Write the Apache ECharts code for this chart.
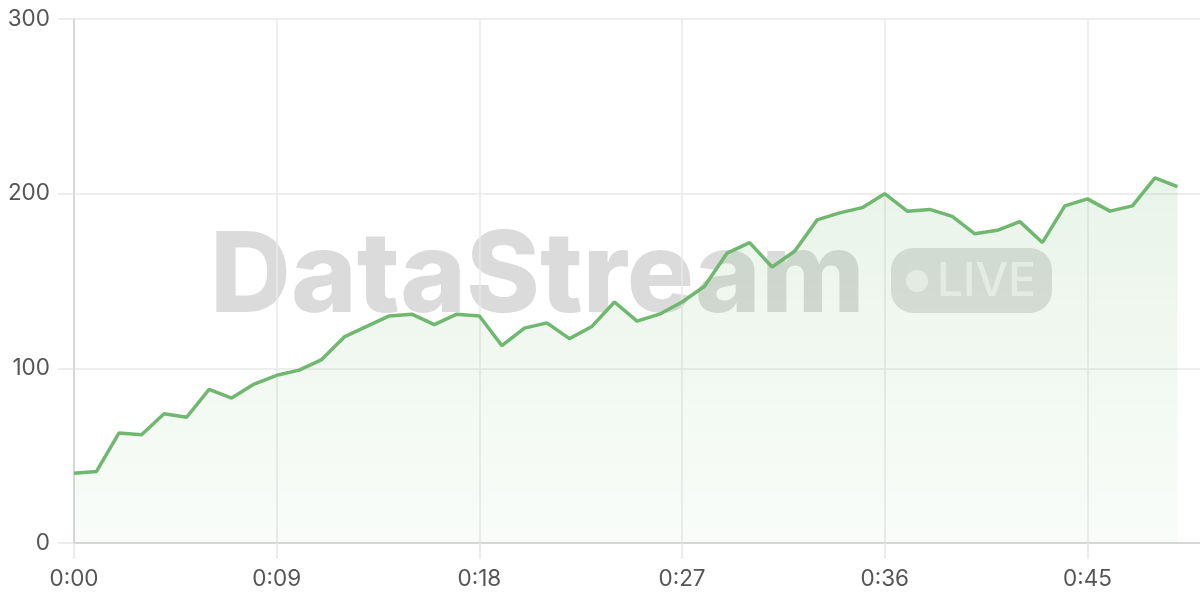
<!DOCTYPE html>
<html>
<head>
    <meta charset="utf-8">
    <title></title>
    <style type="text/css">
        html, body { height: 100%; }
        body { margin: 0; padding: 0; background: #fff; }
        #main { width: 1200px; height: 600px; }
    </style>
</head>
<body>
<div id="main"></div>
<script type="text/javascript" src="https://cdn.jsdelivr.net/npm/echarts@6/dist/echarts.min.js"></script>
<script type="text/javascript">
    // seconds since start
    var seconds = [];
    for (var s = 0; s < 50; s++) seconds.push(s);
    var values = [40, 41, 63, 62, 74, 72, 88, 83, 91, 96,
        99, 105, 118, 124, 130, 131, 125, 131, 130, 113,
        123, 126, 117, 124, 138, 127, 131, 138, 147, 166,
        172, 158, 167, 185, 189, 192, 200, 190, 191, 187,
        177, 179, 184, 172, 193, 197, 190, 193, 209, 204];
    var yTicks = [0, 100, 200, 300];

    var myChart = echarts.init(document.getElementById('main'));

    var points = [];
    for (var i = 0; i < values.length; i++) {
        points.push([seconds[i], values[i]]);
    }

    function fmtTime(v) {
        var m = Math.floor(v / 60), sec = v % 60;
        return m + ':' + (sec < 10 ? '0' + sec : sec);
    }

    var labelFont = 'Inter, "Noto Sans", sans-serif';

    var option = {
        animation: false,
        grid: { left: 74, right: 0, top: 19, bottom: 57 },
        xAxis: {
            type: 'value',
            min: 0,
            max: 50,
            interval: 9,
            axisLine: { show: true, lineStyle: { color: '#cfcfcf', width: 1.5 } },
            axisTick: { show: true, length: 16, lineStyle: { color: '#e6e6e6', width: 1.5 } },
            splitLine: { show: true, showMaxLine: false, lineStyle: { color: '#e8e8e8', width: 1.5 } },
            axisLabel: {
                color: '#555', fontSize: 22.5, fontFamily: labelFont, margin: 25,
                showMaxLabel: false,
                formatter: fmtTime
            }
        },
        yAxis: {
            type: 'value',
            min: yTicks[0],
            max: yTicks[yTicks.length - 1],
            interval: 100,
            axisLine: { show: true, lineStyle: { color: '#cfcfcf', width: 1.5 } },
            axisTick: { show: true, length: 16, lineStyle: { color: '#e6e6e6', width: 1.5 } },
            splitLine: { show: true, lineStyle: { color: '#e8e8e8', width: 1.5 } },
            axisLabel: { color: '#555', fontSize: 22.5, fontFamily: labelFont, margin: 24 }
        },
        graphic: [
            {
                type: 'text', z: -10, left: 210, top: 222,
                style: {
                    text: 'DataStream',
                    font: '800 112px Inter, "Noto Sans", sans-serif',
                    fill: 'rgba(0,0,0,0.14)'
                }
            },
            {
                type: 'group', z: -10, left: 891, top: 248,
                children: [
                    { type: 'rect', shape: { x: 0, y: 0, width: 161, height: 65, r: 22 },
                      style: { fill: 'rgba(0,0,0,0.12)' } },
                    { type: 'circle', shape: { cx: 26, cy: 33, r: 11 },
                      style: { fill: 'rgba(255,255,255,0.6)' } },
                    { type: 'text', x: 46, y: 34,
                      style: { text: 'LIVE', font: '500 46px Inter, "Noto Sans", sans-serif',
                               fill: 'rgba(255,255,255,0.6)', verticalAlign: 'middle' } }
                ]
            }
        ],
        series: [{
            type: 'line',
            data: points,
            showSymbol: false,
            lineStyle: { color: '#70b870', width: 3.5 },
            itemStyle: { color: '#70b870' },
            areaStyle: {
                color: new echarts.graphic.LinearGradient(0, 0, 0, 1, [
                    { offset: 0, color: 'rgba(112,184,112,0.22)' },
                    { offset: 1, color: 'rgba(112,184,112,0.06)' }
                ])
            }
        }]
    };

    myChart.setOption(option);
</script>
</body>
</html>
